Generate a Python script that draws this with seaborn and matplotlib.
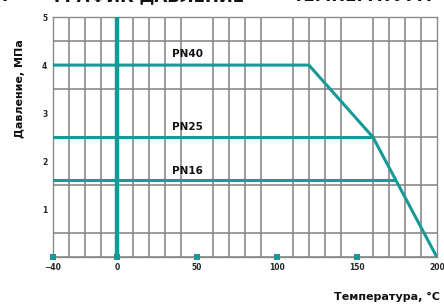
import numpy as np
import pandas as pd
import matplotlib.pyplot as plt
import seaborn as sns

# Data
# --------------
pn40_t = [-40, 120, 160, 200]
pn40_p = [4.0, 4.0, 2.5, 0.0]
pn25_t = [-40, 160]
pn25_p = [2.5, 2.5]
pn16_t = [-40, 174]
pn16_p = [1.6, 1.6]
labels = ["PN40", "PN25", "PN16"]
label_t = [44, 44, 44]
label_p = [4.23, 2.71, 1.79]
x_ticks = [-40, 0, 50, 100, 150, 200]
y_ticks = [1, 2, 3, 4, 5]
marker_t = [-40, 0, 50, 100, 150]

TEAL = "#169a98"

# Set-up
# --------------
sns.set_theme(style="white")
plt.rcParams['font.family'] = ['DejaVu Sans']

lines = pd.concat([
    pd.DataFrame({"t": pn40_t, "p": pn40_p, "pn": "PN40"}),
    pd.DataFrame({"t": pn25_t, "p": pn25_p, "pn": "PN25"}),
    pd.DataFrame({"t": pn16_t, "p": pn16_p, "pn": "PN16"}),
])

fig = plt.figure(figsize=(4.44, 3.05), dpi=100)
ax = fig.add_axes([0.119, 0.157, 0.865, 0.787])

ax.set_xlim(-40, 200)
ax.set_ylim(0, 5)

# grid every 10 degC / 0.5 MPa
ax.set_xticks(np.arange(-40, 201, 10), minor=True)
ax.set_yticks(np.arange(0, 5.01, 0.5), minor=True)
ax.grid(which="minor", color="#808080", linewidth=1.1)
ax.set_axisbelow(True)
for s in ax.spines.values():
    s.set_color("#8a8a8a")
    s.set_linewidth(1.0)

ax.axvline(0, color=TEAL, linewidth=3.2, zorder=3)

sns.lineplot(data=lines, x="t", y="p", units="pn", estimator=None,
             sort=False, color=TEAL, linewidth=2.2, ax=ax, zorder=4,
             legend=False)

ax.scatter(marker_t, [0] * len(marker_t), marker="s", s=14, color=TEAL,
           zorder=5, clip_on=False, linewidths=0)

for lab, t, p in zip(labels, label_t, label_p):
    ax.text(t, p, lab, ha="center", va="center", fontsize=7.5,
            fontweight="bold", color="#111111", zorder=6)

ax.set_xticks(x_ticks)
ax.set_yticks(y_ticks)
ax.tick_params(which="both", length=0, labelsize=5.5, pad=4)
for t in ax.get_xticklabels() + ax.get_yticklabels():
    t.set_fontweight("bold")
ax.set_xlabel("")
ax.set_ylabel("")

fig.text(0.045, 0.71, "Давление, МПа", rotation=90, ha="center",
         va="center", fontsize=8, fontweight="bold", color="#111111")
fig.text(0.99, 0.025, "Температура, °C", ha="right", va="center",
         fontsize=8, fontweight="bold", color="#111111")

# title, clipped at the top edge as in the source scan
for txt, xf in [("Г", 0.015), ("ГРАФИК ДАВЛЕНИЕ", 0.335),
                ("ТЕМПЕРАТУРА", 0.815)]:
    fig.text(xf, 1.012, txt, ha="center", va="center", fontsize=12,
             fontweight="bold", color="#111111")

# Rendering
# --------------
fig.savefig("out.png", dpi=100)
